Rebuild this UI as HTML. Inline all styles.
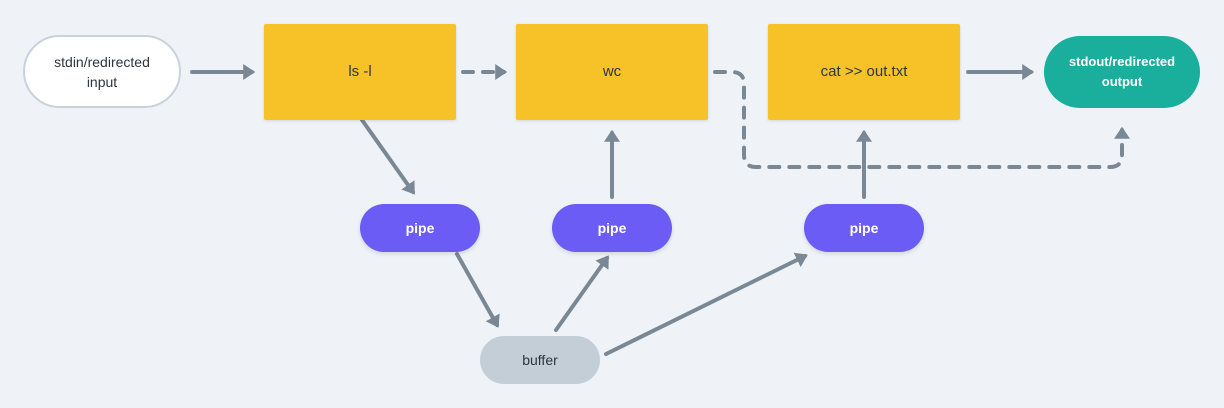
<!DOCTYPE html>
<html><head><style>
body{margin:0;width:1224px;height:408px;background:#eff3f7;overflow:hidden;font-family:"Liberation Sans",sans-serif;}
.n{position:absolute;display:flex;align-items:center;justify-content:center;text-align:center;box-sizing:border-box;font-size:14px;line-height:20px;color:#2d3540;}
.box{background:#f7c227;border-radius:2px;box-shadow:0 1px 3px rgba(0,0,0,.12);font-size:15px;}
.pill{border-radius:26px;}
.pipe{background:#6a5cf5;color:#fff;font-weight:bold;box-shadow:0 2px 4px rgba(0,0,0,.12);}
</style></head><body>
<svg width="1224" height="408" style="position:absolute;left:0;top:0">
<defs><marker id="a" markerWidth="4" markerHeight="4" refX="2.2" refY="2" orient="auto" markerUnits="strokeWidth"><path d="M0,0 L3,2 L0,4 z" fill="#7a8896"/></marker></defs>
<g stroke="#7a8896" stroke-width="4" fill="none" stroke-linecap="round">
<line x1="192" y1="72" x2="252" y2="72" marker-end="url(#a)"/>
<line x1="463" y1="72" x2="504" y2="72" stroke-dasharray="10 10" marker-end="url(#a)"/>
<path d="M715,72 H732 Q744,72 744,84 V155 Q744,167 756,167 H1110 Q1122,167 1122,155 V130" stroke-dasharray="10 10" marker-end="url(#a)"/>
<line x1="968" y1="72" x2="1031" y2="72" marker-end="url(#a)"/>
<line x1="362" y1="120" x2="413" y2="192" marker-end="url(#a)"/>
<line x1="457" y1="254" x2="497" y2="325" marker-end="url(#a)"/>
<line x1="556" y1="330" x2="607" y2="258" marker-end="url(#a)"/>
<line x1="612" y1="197" x2="612" y2="133" marker-end="url(#a)"/>
<line x1="864" y1="197" x2="864" y2="133" marker-end="url(#a)"/>
<line x1="606" y1="354" x2="805" y2="256" marker-end="url(#a)"/>
</g></svg>
<div class="n pill" style="left:23px;top:35px;width:158px;height:73px;border-radius:37px;background:#fff;border:2px solid #c8d2dc;">stdin/redirected<br>input</div>
<div class="n box" style="left:264px;top:24px;width:192px;height:96px;">ls -l</div>
<div class="n box" style="left:516px;top:24px;width:192px;height:96px;">wc</div>
<div class="n box" style="left:768px;top:24px;width:192px;height:96px;">cat &gt;&gt; out.txt</div>
<div class="n" style="left:1044px;top:36px;width:156px;height:72px;border-radius:36px;background:#1aae9c;color:#fff;font-weight:bold;font-size:13px;">stdout/redirected<br>output</div>
<div class="n pill pipe" style="left:360px;top:204px;width:120px;height:48px;">pipe</div>
<div class="n pill pipe" style="left:552px;top:204px;width:120px;height:48px;">pipe</div>
<div class="n pill pipe" style="left:804px;top:204px;width:120px;height:48px;">pipe</div>
<div class="n pill" style="left:480px;top:336px;width:120px;height:48px;background:#c3ced7;">buffer</div>
</body></html>
